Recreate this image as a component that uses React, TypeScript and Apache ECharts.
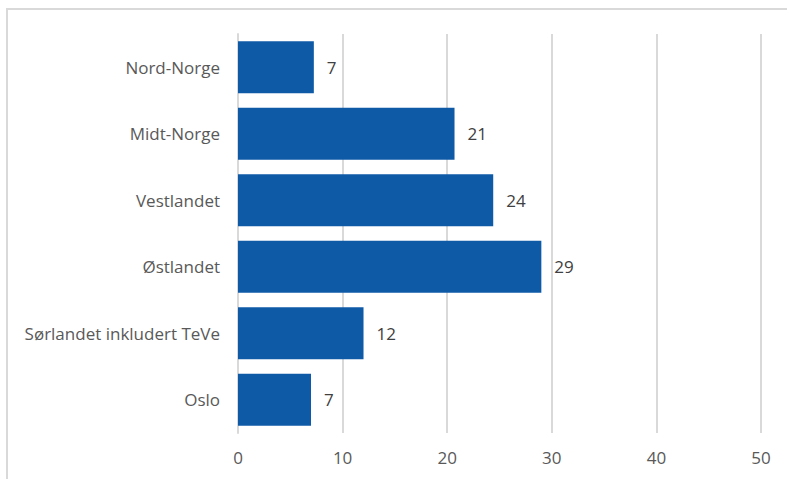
import React, { useEffect, useRef } from "react";
import * as echarts from "echarts";

const categories = ["Oslo", "Sørlandet inkludert TeVe", "Østlandet", "Vestlandet", "Midt-Norge", "Nord-Norge"];
const values = [6.98, 12.0, 29.0, 24.4, 20.7, 7.25];
const xTicks = [0, 10, 20, 30, 40, 50];

export default function App() {
  const ref = useRef<HTMLDivElement>(null);
  useEffect(() => {
    const chart = echarts.init(ref.current!, null, { renderer: "svg" });
    const font = "'Open Sans', 'Liberation Sans', sans-serif";
    chart.setOption({
      animation: false,
      backgroundColor: "#ffffff",
      graphic: [
        {
          type: "rect",
          shape: { x: 7, y: 9, width: 800, height: 500 },
          style: { fill: "none", stroke: "#d9d9d9", lineWidth: 2 },
          z: 0,
        },
      ],
      grid: { left: 238, right: 26, top: 34, bottom: 46 },
      xAxis: {
        type: "value",
        min: xTicks[0],
        max: xTicks[xTicks.length - 1],
        interval: 10,
        axisLine: { show: false },
        axisTick: { show: false },
        splitLine: { show: true, lineStyle: { color: "#d9d9d9", width: 2 } },
        axisLabel: { color: "#595959", fontSize: 17, fontFamily: font, margin: 16 },
      },
      yAxis: {
        type: "category",
        data: categories,
        axisLine: { show: true, lineStyle: { color: "#d9d9d9", width: 2 } },
        axisTick: { show: false },
        axisLabel: { color: "#595959", fontSize: 17, fontFamily: font, margin: 18 },
      },
      series: [
        {
          type: "bar",
          data: values,
          barCategoryGap: "22%",
          itemStyle: { color: "#0e5aa7" },
          label: {
            show: true,
            position: "right",
            distance: 13,
            color: "#404040",
            fontSize: 17,
            fontFamily: font,
            formatter: (p: any) => String(Math.round(p.value)),
          },
        },
      ],
    });
    return () => chart.dispose();
  }, []);
  return (
    <div
      ref={ref}
      style={{ position: "fixed", left: 0, top: 0, width: 787, height: 479 }}
    />
  );
}
